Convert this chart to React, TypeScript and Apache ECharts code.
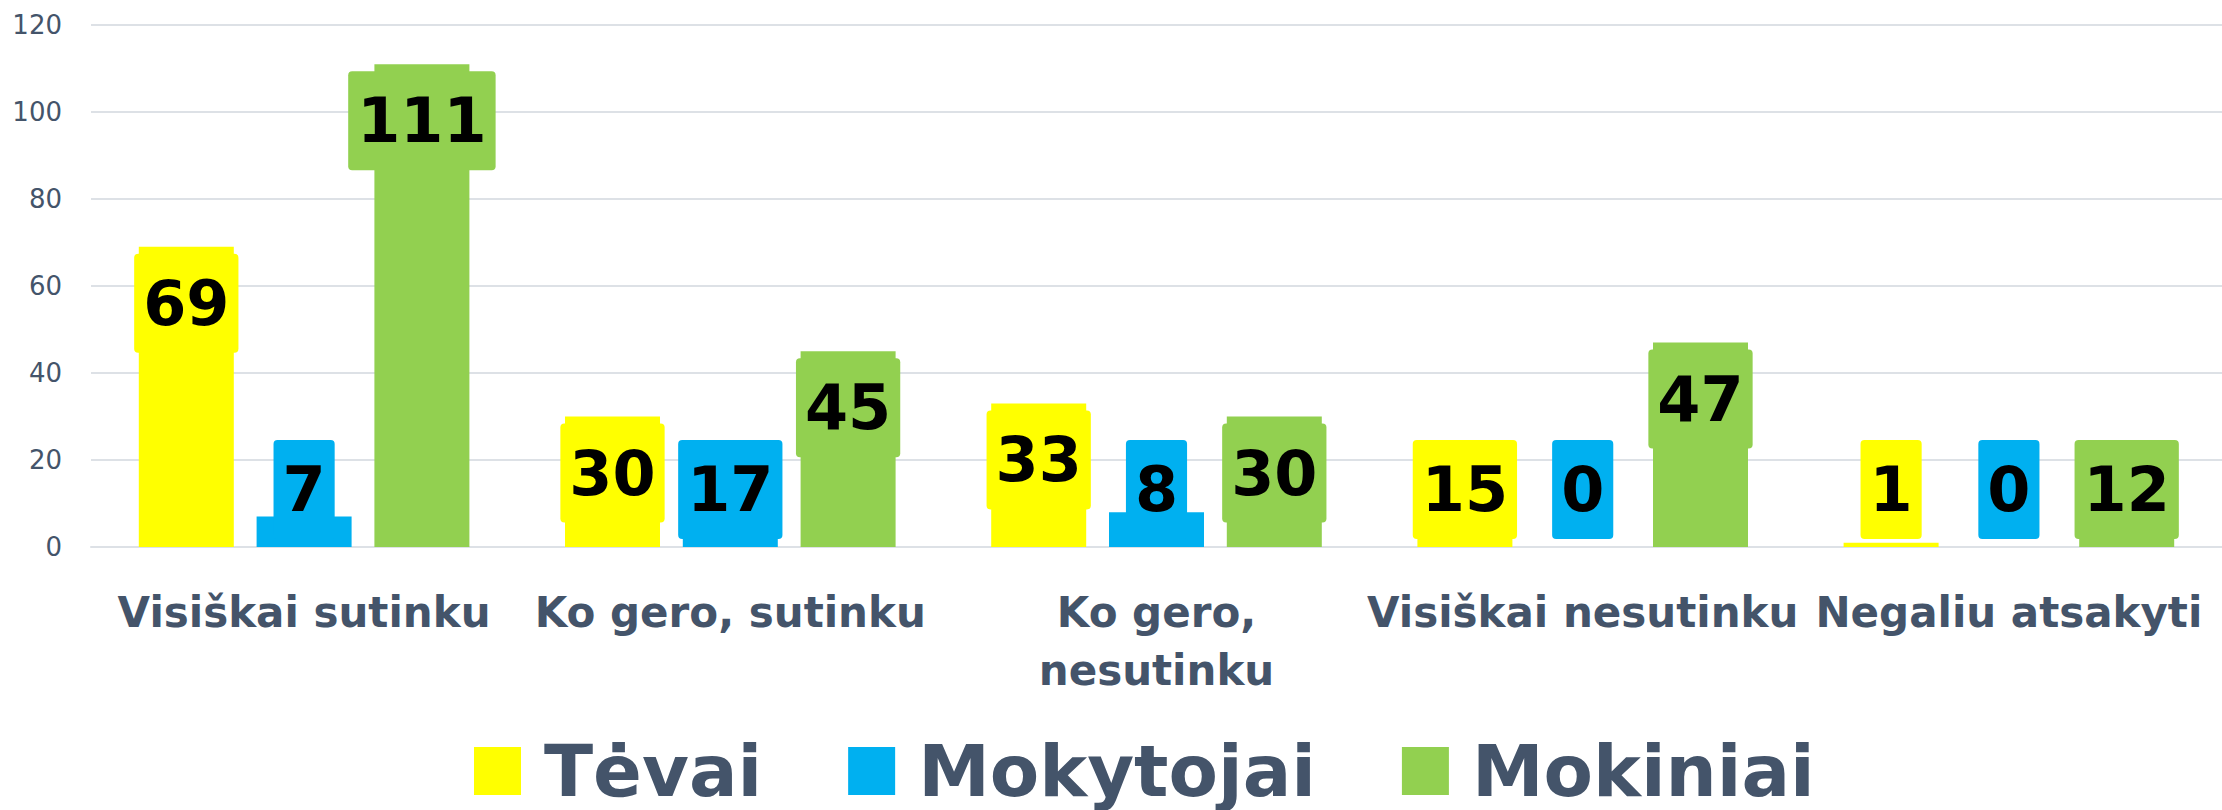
import React, { useEffect, useRef } from "react";
import * as echarts from "echarts";

const categories = [
  "Visiškai sutinku",
  "Ko gero, sutinku",
  "Ko gero,\nnesutinku",
  "Visiškai nesutinku",
  "Negaliu atsakyti",
];
const seriesNames = ["Tėvai", "Mokytojai", "Mokiniai"];
const tevai = [69, 30, 33, 15, 1];
const mokytojai = [7, 17, 8, 0, 0];
const mokiniai = [111, 45, 30, 47, 12];
const yMin = 0;
const yMax = 120;
const yInterval = 20;

const colors = ["#FFFF00", "#00B0F0", "#92D050"];
const FONT = "'DejaVu Sans', 'Liberation Sans', Arial, sans-serif";

// layout constants
const GRID_TOP = 25;
const GRID_HEIGHT = 522;
const LABEL_FONT = 62;
const LABEL_LINE = 71;
const LABEL_PAD_V = 14;
const LABEL_TOP_GAP = 7;
const LABEL_BOTTOM_GAP = 8;

function buildData(values: number[]) {
  const pxPerUnit = GRID_HEIGHT / (yMax - yMin);
  const boxH = LABEL_LINE + LABEL_PAD_V * 2;
  return values.map((v) => {
    const barPx = v * pxPerUnit;
    // keep the label box above the axis, as the source chart does
    if (barPx - LABEL_TOP_GAP - boxH < LABEL_BOTTOM_GAP) {
      return {
        value: v,
        label: { position: "insideBottom", distance: LABEL_BOTTOM_GAP },
      };
    }
    return { value: v };
  });
}

export default function App() {
  const ref = useRef<HTMLDivElement>(null);

  useEffect(() => {
    if (!ref.current) return;
    const chart = echarts.init(ref.current, undefined, { renderer: "svg" });
    const allValues = [tevai, mokytojai, mokiniai];
    const option = {
      animation: false,
      backgroundColor: "#FFFFFF",
      grid: { left: 91, top: GRID_TOP, width: 2152, height: GRID_HEIGHT },
      legend: {
        data: seriesNames,
        left: 469,
        top: 730,
        icon: "rect",
        itemWidth: 47,
        itemHeight: 48,
        itemGap: 86,
        textStyle: {
          fontFamily: FONT,
          fontSize: 72,
          fontWeight: "bold",
          color: "#44546A",
          lineHeight: 72,
          padding: [0, 0, 0, 18],
        },
      },
      xAxis: {
        type: "category",
        data: categories,
        axisLine: { show: true, lineStyle: { color: "#DDE1E6", width: 2 } },
        axisTick: { show: false },
        axisLabel: {
          interval: 0,
          margin: 36,
          fontFamily: FONT,
          fontSize: 42,
          fontWeight: "bold",
          color: "#44546A",
          lineHeight: 58,
        },
      },
      yAxis: {
        type: "value",
        min: yMin,
        max: yMax,
        interval: yInterval,
        axisLine: { show: false },
        axisTick: { show: false },
        axisLabel: {
          margin: 29,
          fontFamily: FONT,
          fontSize: 26,
          color: "#44546A",
        },
        splitLine: { lineStyle: { color: "#DDE1E6", width: 2 } },
      },
      series: seriesNames.map((name, i) => ({
        name,
        type: "bar",
        barWidth: 95,
        barGap: "24%",
        itemStyle: { color: colors[i] },
        data: buildData(allValues[i]),
        label: {
          show: true,
          position: "insideTop",
          distance: LABEL_TOP_GAP,
          fontFamily: FONT,
          fontSize: LABEL_FONT,
          fontWeight: "bold",
          color: "#000000",
          lineHeight: LABEL_LINE,
          backgroundColor: colors[i],
          padding: [LABEL_PAD_V, 9],
          borderRadius: 4,
        },
      })),
    };
    chart.setOption(option as any);
    return () => chart.dispose();
  }, []);

  return (
    <div
      ref={ref}
      style={{ position: "absolute", left: 0, top: 0, width: 2222, height: 810 }}
    />
  );
}
